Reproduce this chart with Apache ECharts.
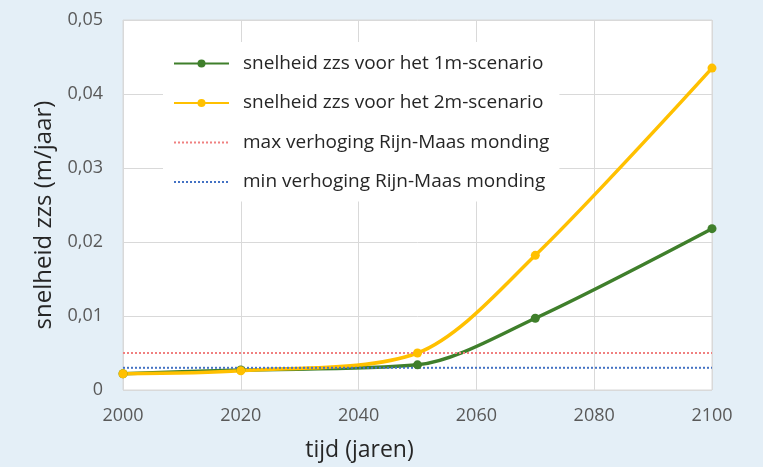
<!DOCTYPE html>
<html><head><meta charset="utf-8">
<script src="https://cdn.jsdelivr.net/npm/echarts@6/dist/echarts.min.js"></script>
<style>html,body{margin:0;padding:0;background:#e4eff7;}#c{width:763px;height:467px;}</style>
</head><body><div id="c"></div>
<script>
const years = [2000, 2020, 2050, 2070, 2100];
const scen1m = [0.0022, 0.0027, 0.0034, 0.0097, 0.0218];
const scen2m = [0.0022, 0.0026, 0.0050, 0.0182, 0.0435];
const refYears = [2000, 2100];
const maxRijnMaas = [0.005, 0.005];
const minRijnMaas = [0.003, 0.003];
const names = ['snelheid zzs voor het 1m-scenario','snelheid zzs voor het 2m-scenario','max verhoging Rijn-Maas monding','min verhoging Rijn-Maas monding'];

const pair = (xs, ys) => xs.map((x, i) => [x, ys[i]]);
const font = '"Open Sans", sans-serif';
const chart = echarts.init(document.getElementById('c'));
chart.setOption({
  backgroundColor: '#e4eff7',
  animation: false,
  textStyle: {fontFamily: font},
  grid: {left: 123, right: 51, top: 20, bottom: 75, show: true, backgroundColor: '#ffffff', borderColor: '#d9d9d9', borderWidth: 1},
  legend: {
    orient: 'vertical', left: 163, top: 42, itemWidth: 55, itemHeight: 10, itemGap: 20.5,
    backgroundColor: '#ffffff', padding: [12, 10, 10, 10],
    textStyle: {fontSize: 19, color: '#262626', fontFamily: font, padding: [0, 0, 0, 9]},
    data: [
      {name: names[0]}, {name: names[1]},
      {name: names[2], itemStyle: {opacity: 0}},
      {name: names[3], itemStyle: {opacity: 0}}
    ]
  },
  xAxis: {
    type: 'value', min: 2000, max: 2100, interval: 20,
    name: 'tijd (jaren)', nameLocation: 'middle', nameGap: 49,
    nameTextStyle: {fontSize: 23, color: '#262626', padding: [0, 116, 0, 0]},
    axisLine: {show: false}, axisTick: {show: false},
    axisLabel: {fontSize: 18, color: '#595959', margin: 17, formatter: v => String(v)},
    splitLine: {lineStyle: {color: '#d9d9d9'}}
  },
  yAxis: {
    type: 'value', min: 0, max: 0.05, interval: 0.01,
    name: 'snelheid zzs (m/jaar)', nameLocation: 'middle', nameGap: 63,
    nameTextStyle: {fontSize: 24, color: '#262626', padding: [0, 20, 0, 0]},
    axisLine: {show: false}, axisTick: {show: false},
    axisLabel: {fontSize: 18, color: '#595959', margin: 20, formatter: v => String(+v.toFixed(2)).replace('.', ',')},
    splitLine: {lineStyle: {color: '#d9d9d9'}}
  },
  series: [
    {name: names[0], type: 'line', smooth: 0.3, data: pair(years, scen1m), symbol: 'circle', symbolSize: 9,
     itemStyle: {color: '#3f7f2b'}, lineStyle: {width: 3.5, color: '#3f7f2b'}},
    {name: names[1], type: 'line', smooth: 0.3, data: pair(years, scen2m), symbol: 'circle', symbolSize: 9,
     itemStyle: {color: '#ffc000'}, lineStyle: {width: 3.5, color: '#ffc000'}},
    {name: names[2], type: 'line', data: pair(refYears, maxRijnMaas), symbol: 'none', silent: true,
     itemStyle: {color: '#f08080'}, lineStyle: {width: 2, type: 'dotted', color: '#f08080'}},
    {name: names[3], type: 'line', data: pair(refYears, minRijnMaas), symbol: 'none', silent: true,
     itemStyle: {color: '#4472c4'}, lineStyle: {width: 2, type: 'dotted', color: '#4472c4'}}
  ]
});
</script></body></html>
